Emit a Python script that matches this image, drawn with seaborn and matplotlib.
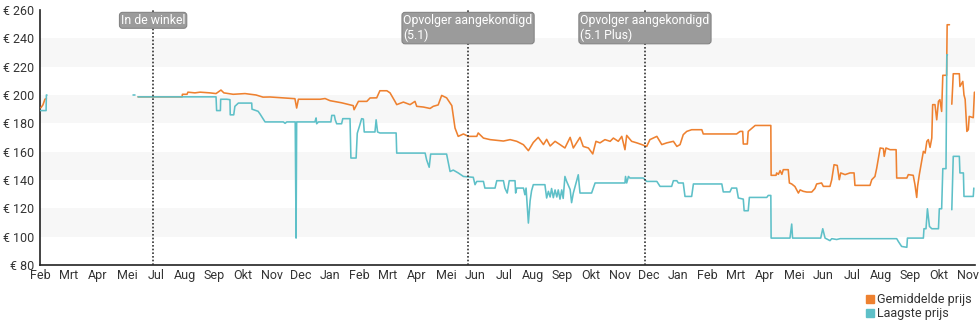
import numpy as np
import pandas as pd
import matplotlib
matplotlib.use("Agg")
import matplotlib.pyplot as plt
from matplotlib.lines import Line2D
import seaborn as sns

# ---------------- data ----------------
month_labels = ['Feb', 'Mrt', 'Apr', 'Mei', 'Jul', 'Aug', 'Sep', 'Okt', 'Nov', 'Dec', 'Jan',
                'Feb', 'Mrt', 'Apr', 'Mei', 'Jun', 'Jul', 'Aug', 'Sep', 'Okt', 'Nov', 'Dec', 'Jan',
                'Feb', 'Mrt', 'Apr', 'Mei', 'Jun', 'Jul', 'Aug', 'Sep', 'Okt', 'Nov']
y_ticks = [80, 100, 120, 140, 160, 180, 200, 220, 240, 260]

event_pos = [3.90, 14.76, 20.86]
event_labels = ['In de winkel', 'Opvolger aangekondigd\n(5.1)', 'Opvolger aangekondigd\n(5.1 Plus)']

avg_t = [0.03, 0.10, 0.17, 0.22, np.nan,
         3.38, 4.90, 4.91, 5.07, 5.10, 5.34, 5.52, 5.86, 6.07, 6.24, 6.34, 6.66, 7.07, 7.45, 7.69,
         7.93, 8.79, 8.85, 8.91, 9.66, 9.83, 10.00, 10.40, 10.80, 10.83, 10.98, 11.27, 11.38, 11.61,
         11.72, 11.96, 12.07, 12.24, 12.30, 12.53, 12.76, 12.93, 12.99, 13.22, 13.45, 13.56, 13.73,
         13.85, 14.02, 14.20, 14.31, 14.42, 14.60, 14.77, 15.06, 15.11, 15.29, 15.52, 15.98, 16.21,
         16.44, 16.67, 16.84, 17.01, 17.18, 17.36, 17.47, 17.59, 17.76, 17.93, 18.10, 18.28, 18.39,
         18.62, 18.73, 18.91, 19.06, 19.17, 19.31, 19.48, 19.66, 19.77, 19.94, 20.06, 20.17, 20.23,
         20.40, 20.58, 20.75, 20.92, 21.03, 21.27, 21.44, 21.61, 21.84, 21.96, 22.07, 22.18, 22.30,
         22.47, 22.82, 22.87, 24.02, 24.14, 24.23, 24.25, 24.39, 24.42, 24.66, 25.20, 25.21, 25.38,
         25.40, 25.46, 25.52, 25.58, 25.63, 25.80, 25.84, 25.92, 26.03, 26.15, 26.21, 26.32, 26.44,
         26.61, 26.72, 26.78, 26.95, 27.01, 27.24, 27.30, 27.38, 27.49, 27.56, 27.61, 27.76, 27.93,
         28.07, 28.10, 28.62, 28.68, 28.79, 28.85, 28.91, 28.97, 29.08, 29.11, 29.17, 29.31, 29.52,
         29.54, 29.89, 29.94, 30.11, 30.17, 30.23, 30.26, 30.32, 30.40, 30.46, 30.52, 30.58, 30.63,
         30.69, 30.75, 30.78, 30.86, 30.92, 30.98, 31.03, 31.09, 31.13, 31.26, 31.28, 31.36, np.nan,
         31.44, 31.47, 31.49, 31.70, 31.72, 31.82, 31.86, 31.90, 31.96, 32.01, 32.04, 32.18, 32.22]
avg_price = [191, 193, 197, 197.5, np.nan,
             198.7, 198.7, 200.5, 200.5, 202, 201.5, 202, 201.5, 201, 203.5, 201.5, 200.5, 201, 200, 198.5,
             198.6, 197.4, 190.8, 197, 197, 197.5, 196, 194.5, 192.5, 189.6, 195.5, 195.5, 197.9, 198,
             203, 203, 201.5, 195.5, 193.2, 195, 193.2, 195.5, 192, 191.5, 190.5, 192, 193,
             199.7, 198, 192.5, 176.7, 170.8, 172.5, 170.8, 170.8, 173.2, 169.6, 168.5, 167.5, 168.5,
             167.3, 164.9, 160.7, 166.5, 170.1, 165, 168.7, 164, 167.3, 165, 162.6, 170.1, 162.6,
             170.1, 163.7, 162.6, 158.4, 167.3, 166.2, 168.5, 167.3, 169.6, 167.3, 170.8, 161.4, 171.5,
             167.3, 166.2, 165, 163.7, 168.5, 170.8, 165, 166.2, 167.3, 163.7, 165, 172, 174.3,
             175.5, 175.5, 172.5, 172.5, 174.3, 174.3, 165.4, 165.4, 174.3, 178.5, 178.5, 143.3, 143.3,
             145, 144, 146.6, 144, 147.3, 147.3, 137.9, 137.2, 135.4, 130.8, 133, 132, 131.5,
             131.5, 134, 137.2, 137.9, 135.5, 135.5, 140.2, 150.8, 150.3, 140.2, 145, 143.8, 145,
             145, 136.2, 136.2, 140.2, 142.5, 148.3, 155.5, 162.6, 162.2, 156.7, 162.6, 161.4, 161.4,
             141.4, 141.4, 143.8, 143.3, 136.7, 127.7, 135.5, 143.8, 153.2, 160.2, 159, 167.3, 168.5,
             163, 169.6, 193.2, 193.2, 182.5, 195.5, 196.7, 188.4, 213.9, 213.9, 249.6, 249.6, np.nan,
             193.5, 206, 215, 215, 206, 209.6, 200, 197, 174.3, 175.5, 184.9, 184, 202]

low_t = [0.02, 0.21, 0.22, 0.24, np.nan, 3.21, 3.26, np.nan,
         3.38, 6.07, 6.09, 6.22, 6.23, 6.44, 6.55, 6.56, 6.68, 6.72, 6.84, 7.30, 7.31, 7.52, 7.59,
         7.76, 8.39, 8.45, 8.51, 8.80, 8.83, 8.85, 9.48, 9.52, 9.54, 9.60, 10.03, 10.06, 10.15, 10.18,
         10.23, 10.40, 10.44, 10.69, 10.72, 10.90, 10.94, 11.03, 11.09, 11.15, 11.18, 11.55, 11.59,
         11.64, 11.72, 12.28, 12.30, 13.28, 13.33, 13.42, 13.47, 14.02, 14.08, 14.14, 14.25, 14.42,
         14.60, 14.94, 15.00, 15.06, 15.29, 15.34, 15.69, 15.75, 15.98, 16.03, 16.11, 16.18, 16.38,
         16.40, 16.44, 16.67, 16.72, 16.76, 16.84, 16.90, 16.95, 17.01, 17.41, 17.47, 17.53, 17.59,
         17.64, 17.70, 17.76, 17.82, 17.87, 17.93, 17.99, 18.04, 18.10, 18.16, 18.28, 18.33, 18.39,
         18.56, 18.62, 19.02, 19.14, 20.17, 20.19, 20.23, 20.29, 20.34, 20.80, 20.92, 21.27, 21.38,
         21.78, 21.84, 21.96, 22.01, 22.18, 22.24, 22.47, 22.53, 23.51, 23.56, 23.79, 23.85, 24.02,
         24.08, 24.25, 24.28, 24.42, 24.46, 25.06, 25.11, 25.20, 25.21, 25.86, 25.92, 25.95, 26.92,
         26.99, 27.07, 27.24, 27.30, 27.47, 27.59, 29.54, 29.60, 29.71, 29.89, 29.91, 30.46, 30.48,
         30.55, 30.60, 30.67, 30.75, 30.98, 31.01, 31.09, 31.13, 31.24, 31.27, 31.29, np.nan,
         31.44, 31.49, 31.70, 31.72, 31.84, 31.86, 32.18, 32.20]
low_price = [189, 189, 200, 200, np.nan, 200, 200, np.nan,
             198.7, 198.7, 189, 189, 197, 197, 196.7, 186, 186, 192, 194.3, 194.3, 190, 188.5, 186.5,
             181, 181, 180, 181, 181, 99, 181, 181, 183.8, 179.7, 181, 181, 185.6, 185.6, 182.5,
             179.7, 179.7, 183.3, 183.3, 155.5, 155.5, 173, 179, 183.3, 183, 173.9, 173.9, 182.5,
             173.9, 173.2, 173.2, 159, 159, 154.3, 149, 158.3, 158.3, 152, 146, 147, 145,
             142.5, 141.9, 136.7, 139, 139, 134.3, 134.3, 139.5, 139.5, 134.3, 130.8, 139.5, 139.5,
             130.8, 134.3, 134.3, 129.6, 134.3, 109.6, 125.4, 132.4, 136.7, 136.7, 127.3, 132, 128,
             134, 127.5, 133, 128, 133, 126.5, 133, 127, 142.5, 139, 133.3, 124, 130.8,
             143.7, 130.8, 130.8, 137.9, 137.9, 142.5, 137.9, 142.5, 141.4, 141.4, 139, 139, 135.5,
             135.5, 139.5, 139.5, 137.9, 137.9, 128.4, 128.4, 137.2, 137.2, 131.6, 131.6, 134.3, 134.3,
             127.3, 126.5, 118.3, 118.3, 127.7, 127.7, 129.1, 129.1, 99, 99, 108.9, 99, 99,
             105.6, 99, 97.2, 98.6, 98, 98.6, 98.6, 96.5, 93.1, 92.5, 99, 99, 105.6,
             105.6, 119.7, 107.2, 105.6, 105.6, 119.7, 119.7, 148, 148, 228.4, 228.4, np.nan,
             119, 156.7, 156.7, 145, 145, 128.4, 128.4, 134.3]

series_names = ['Gemiddelde prijs', 'Laagste prijs']
series_colors = ['#EE8130', '#5EC0C8']


def to_frame(t, p):
    df = pd.DataFrame({'t': t, 'price': p})
    df['segment'] = df['t'].isna().cumsum()
    return df.dropna().reset_index(drop=True)


# ---------------- style ----------------
sns.set_style('white')
plt.rcParams['font.family'] = ['Roboto', 'DejaVu Sans']

fig = plt.figure(figsize=(9.8, 3.25), dpi=100)
ax = fig.add_axes([40 / 980, 60 / 325, 935 / 980, 255 / 325])

# alternating bands
for lo in (100, 140, 180, 220):
    ax.axhspan(lo, lo + 20, color='#f7f7f7', zorder=0, lw=0)

for (t, p), name, col in zip([(avg_t, avg_price), (low_t, low_price)], series_names, series_colors):
    df = to_frame(t, p)
    sns.lineplot(data=df, x='t', y='price', units='segment', estimator=None,
                 color=col, lw=1.15, ax=ax, sort=False, legend=False, zorder=3)

# event lines + labels
for pos, lab in zip(event_pos, event_labels):
    ax.axvline(pos, color='#333333', lw=1.2, ls=(0, (1, 1.2)), zorder=4)
    ax.text(pos, 0.985, lab, transform=ax.get_xaxis_transform(), ha='center', va='top',
            multialignment='left', color='white', fontsize=8.8, zorder=5,
            bbox=dict(boxstyle='round,pad=0.12,rounding_size=0.25', fc='#9b9b9b', ec='#858585', lw=0.8))

ax.set_xlim(0, 32.24)
ax.set_ylim(80, 260)
ax.set_xticks(range(len(month_labels)))
ax.set_xticklabels(month_labels)
ax.set_yticks(y_ticks)
ax.set_yticklabels([f'€ {v}' for v in y_ticks])
ax.set_xlabel('')
ax.set_ylabel('')

for s in ('top', 'right'):
    ax.spines[s].set_visible(False)
for s in ('left', 'bottom'):
    ax.spines[s].set_color('#222222')
    ax.spines[s].set_linewidth(1.2)
ax.tick_params(axis='both', direction='inout', length=6, width=1.1, color='#222222',
               labelsize=9, labelcolor='#333333', pad=1)
ax.tick_params(axis='x', pad=0)

handles = [Line2D([], [], marker='s', ls='none', color=c, markersize=5.5) for c in series_colors]
fig.legend(handles, series_names, loc='upper right', bbox_to_anchor=(978 / 980, 1 - 287 / 325),
           frameon=False, fontsize=9, handletextpad=0.05, labelspacing=0.1, borderpad=0,
           handlelength=1.0, labelcolor='#333333')

fig.savefig('out.png', dpi=100)
